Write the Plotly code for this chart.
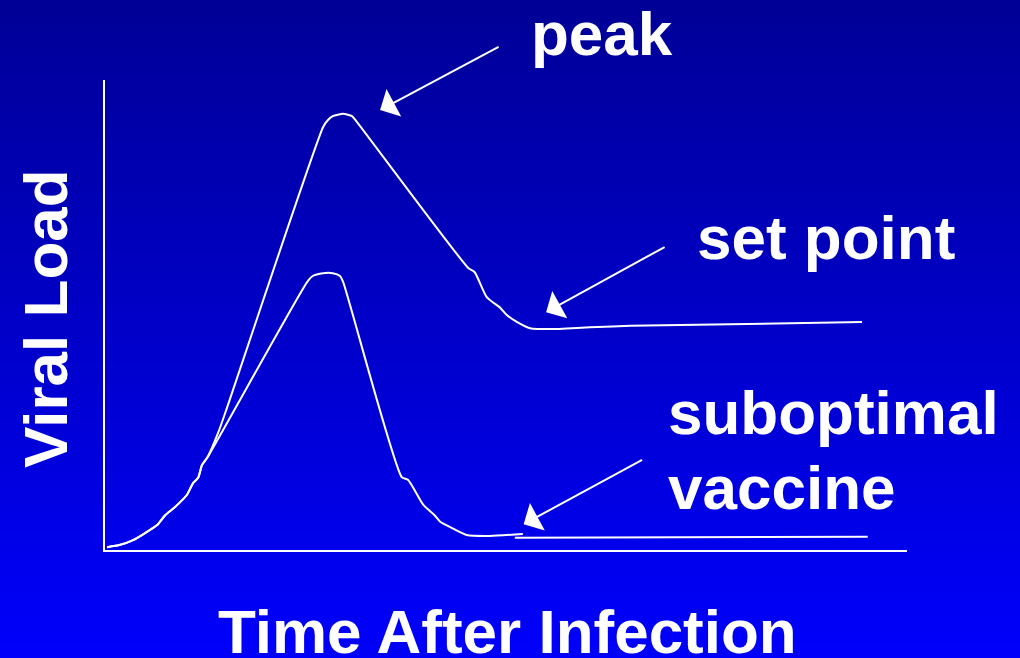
import plotly.graph_objects as go

# ---- data (arbitrary units: time 0-100, viral load 0-100) ----
t_natural = [0.25, 1.9, 3.5, 5.0, 6.5, 7.5, 8.7, 10.2, 11.0, 11.6, 12.1, 12.8, 14.1, 15.2,
             27.2, 27.8, 28.4, 29.7, 30.8, 31.4, 45.3, 46.1, 47.6, 49.3, 50.1, 51.4,
             53.0, 55.5, 60.5, 65.5, 94.4]
v_natural = [0.6, 1.1, 2.1, 3.6, 5.3, 7.4, 9.1, 11.7, 14.3, 15.3, 18.1, 19.8, 24.9, 30.2,
             90.0, 91.5, 92.3, 92.8, 92.3, 91.1, 60.0, 59.1, 53.8, 51.5, 50.0, 48.5,
             47.2, 47.0, 47.4, 47.7, 48.5]

t_vaccine = [0.25, 1.9, 3.5, 5.0, 6.5, 7.5, 8.7, 10.2, 11.0, 11.6, 12.1, 12.8,
             25.2, 25.9, 27.2, 28.4, 29.3, 29.7, 37.0, 37.8, 39.7, 41.1, 41.8, 43.0,
             45.1, 48.0, 52.1]
v_vaccine = [0.6, 1.1, 2.1, 3.6, 5.3, 7.4, 9.1, 11.7, 14.3, 15.3, 18.1, 19.8,
             57.0, 58.3, 58.9, 58.9, 58.3, 57.0, 15.5, 14.9, 9.6, 7.4, 6.0, 4.9,
             3.2, 3.0, 3.4]
t_vaccine_tail = [51.1, 95.1]
v_vaccine_tail = [2.6, 2.8]

x_title = "Time After Infection"
y_title = "Viral Load"
labels = ["peak", "set point", "suboptimal", "vaccine"]

# arrow heads (data) and tails (pixel offsets)
arrow_heads = [(34.3, 93.6), (55.0, 50.6), (52.2, 5.5)]
arrow_tails = [(120, -64), (120, -66), (120, -65)]

# ---- layout geometry ----
W, H = 1020, 658
L, R, T, B = 105, 907, 80, 550


def px(x):
    return (x - L) / (R - L)


def py(y):
    return (B - y) / (B - T)


FONT = dict(family="Liberation Sans, Arial, sans-serif", size=62, color="white", weight="bold")

fig = go.Figure()
line_style = dict(color="white", width=2)
fig.add_trace(go.Scatter(x=t_natural, y=v_natural, mode="lines", line=line_style,
                         line_shape="spline", line_smoothing=0.6, hoverinfo="skip"))
fig.add_trace(go.Scatter(x=t_vaccine, y=v_vaccine, mode="lines", line=line_style,
                         line_shape="spline", line_smoothing=0.6, hoverinfo="skip"))
fig.add_trace(go.Scatter(x=t_vaccine_tail, y=v_vaccine_tail, mode="lines", line=line_style,
                         hoverinfo="skip"))

# gradient background strips
top_c = (0, 0, 150)
bot_c = (0, 0, 252)
n = 110
shapes = []
for i in range(n):
    y0 = H * i / n
    y1 = H * (i + 1) / n + 1
    f = (i + 0.5) / n
    c = tuple(round(top_c[k] + (bot_c[k] - top_c[k]) * f) for k in range(3))
    shapes.append(dict(type="rect", xref="paper", yref="paper",
                       x0=px(0), x1=px(W), y0=py(y1), y1=py(y0),
                       fillcolor="rgb(%d,%d,%d)" % c, line=dict(width=0), layer="below"))

annotations = []
# texts
annotations.append(dict(text=labels[0], x=px(602), y=py(34), xref="paper", yref="paper",
                        xanchor="center", yanchor="middle", showarrow=False, font=FONT))
annotations.append(dict(text=labels[1], x=px(695), y=py(237), xref="paper", yref="paper",
                        xanchor="left", yanchor="middle", showarrow=False, font=FONT))
annotations.append(dict(text=labels[2], x=px(666), y=py(412), xref="paper", yref="paper",
                        xanchor="left", yanchor="middle", showarrow=False, font=FONT))
annotations.append(dict(text=labels[3], x=px(666), y=py(487), xref="paper", yref="paper",
                        xanchor="left", yanchor="middle", showarrow=False, font=FONT))
annotations.append(dict(text=x_title, x=px(508), y=py(631), xref="paper", yref="paper",
                        xanchor="center", yanchor="middle", showarrow=False, font=FONT))
annotations.append(dict(text=y_title, x=px(45), y=py(319), xref="paper", yref="paper",
                        xanchor="center", yanchor="middle", showarrow=False, font=FONT,
                        textangle=-90))
for (hx, hy), (ax, ay) in zip(arrow_heads, arrow_tails):
    annotations.append(dict(text="", x=hx, y=hy, xref="x", yref="y", ax=ax, ay=ay,
                            showarrow=True, arrowhead=1, arrowsize=2.6, arrowwidth=2,
                            arrowcolor="white", standoff=0))

fig.update_layout(
    width=W, height=H,
    margin=dict(l=L, r=W - R, t=T, b=H - B, pad=0),
    paper_bgcolor="rgb(0,0,150)",
    plot_bgcolor="rgba(0,0,0,0)",
    showlegend=False,
    shapes=shapes,
    annotations=annotations,
    xaxis=dict(range=[0, 100], showline=True, linecolor="white", linewidth=2,
               showgrid=False, zeroline=False, showticklabels=False, ticks=""),
    yaxis=dict(range=[0, 100], showline=True, linecolor="white", linewidth=2,
               showgrid=False, zeroline=False, showticklabels=False, ticks=""),
)

fig.write_html(
    "out.html",
    config={"displayModeBar": False},
    post_script="document.body.style.margin='0';document.body.style.overflow='hidden';",
)
